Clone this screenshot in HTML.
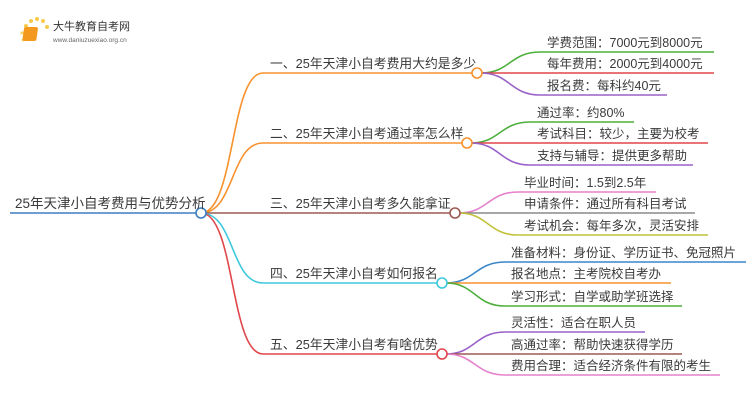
<!DOCTYPE html>
<html><head><meta charset="utf-8"><style>
html,body{margin:0;padding:0;background:#fff;}
svg{display:block;}
text{font-family:"Liberation Sans","Noto Sans CJK SC",sans-serif;fill:#3a3a3a;}
</style></head><body>
<svg width="750" height="410" viewBox="0 0 750 410" xmlns="http://www.w3.org/2000/svg">
<g>
<circle cx="26" cy="26" r="2" fill="#f8c94a"/><circle cx="31" cy="21" r="2" fill="#f8c94a"/><circle cx="37" cy="19" r="2" fill="#f8c94a"/><circle cx="43" cy="21" r="2" fill="#f8c94a"/><circle cx="47" cy="27" r="2" fill="#f8c94a"/><circle cx="22" cy="33" r="1.6" fill="#f8d770"/><circle cx="23" cy="40" r="1.4" fill="#f8d770"/>
<rect x="28" y="27" width="14" height="14" rx="2" fill="#f39a1e" transform="skewX(-8)"/>
<text x="53" y="30" font-size="11" style="fill:#333">大牛教育自考网</text>
<text x="53" y="42" font-size="6.5" style="fill:#666">www.daniuzuexiao.org.cn</text>
</g>
<g fill="none" stroke-width="1.6">
<path d="M10 213 H197" stroke="#3b7fc4"/>
<path d="M201 213 C235 213 230 73 263 73 H473" stroke="#f7922e"/>
<path d="M201 213 C235 213 230 143 263 143 H463" stroke="#f7922e"/>
<path d="M201 213 H451" stroke="#9b5a52"/>
<path d="M201 213 C235 213 230 283 263 283 H438" stroke="#3ec8dc"/>
<path d="M201 213 C235 213 230 354 263 354 H438" stroke="#e0474a"/>
<path d="M481 73 C510 73 510 52 540 52 H714" stroke="#4caf3c"/>
<path d="M481 73 H714" stroke="#e0474a"/>
<path d="M481 73 C510 73 510 95 540 95 H667" stroke="#9a62c8"/>
<path d="M471 143 C500 143 500 122 530 122 H634" stroke="#4caf3c"/>
<path d="M471 143 H708" stroke="#e0474a"/>
<path d="M471 143 C500 143 500 165 530 165 H693" stroke="#9a62c8"/>
<path d="M459 213 C488 213 488 192 518 192 H656" stroke="#e680cc"/>
<path d="M459 213 H695" stroke="#8a8a8a"/>
<path d="M459 213 C488 213 488 235 518 235 H708" stroke="#c2c23a"/>
<path d="M446 283 C475 283 475 262 505 262 H746" stroke="#3a86c8"/>
<path d="M446 283 H671" stroke="#f7922e"/>
<path d="M446 283 C475 283 475 306 505 306 H682" stroke="#4caf3c"/>
<path d="M446 354 C475 354 475 332 505 332 H645" stroke="#9a62c8"/>
<path d="M446 354 H682" stroke="#9b5a52"/>
<path d="M446 354 C475 354 475 375 505 375 H720" stroke="#e680cc"/>
<circle cx="201" cy="213" r="5" fill="#fff" stroke="#3b7fc4"/>
<circle cx="477" cy="73" r="5" fill="#fff" stroke="#f7922e"/>
<circle cx="467" cy="143" r="5" fill="#fff" stroke="#f7922e"/>
<circle cx="455" cy="213" r="5" fill="#fff" stroke="#9b5a52"/>
<circle cx="442" cy="283" r="5" fill="#fff" stroke="#3ec8dc"/>
<circle cx="442" cy="354" r="5" fill="#fff" stroke="#e0474a"/>
</g>
<text x="15" y="208" font-size="13.5">25年天津小自考费用与优势分析</text>
<g font-size="12.8">
<text x="270" y="68">一、25年天津小自考费用大约是多少</text>
<text x="270" y="138">二、25年天津小自考通过率怎么样</text>
<text x="270" y="208">三、25年天津小自考多久能拿证</text>
<text x="270" y="278">四、25年天津小自考如何报名</text>
<text x="270" y="349">五、25年天津小自考有啥优势</text>
</g>
<g font-size="12.5">
<text x="547" y="47">学费范围：7000元到8000元</text>
<text x="547" y="68">每年费用：2000元到4000元</text>
<text x="547" y="90">报名费：每科约40元</text>
<text x="537" y="117">通过率：约80%</text>
<text x="537" y="138">考试科目：较少，主要为校考</text>
<text x="537" y="160">支持与辅导：提供更多帮助</text>
<text x="524" y="187">毕业时间：1.5到2.5年</text>
<text x="524" y="208">申请条件：通过所有科目考试</text>
<text x="524" y="230">考试机会：每年多次，灵活安排</text>
<text x="511" y="257">准备材料：身份证、学历证书、免冠照片</text>
<text x="511" y="278">报名地点：主考院校自考办</text>
<text x="511" y="301">学习形式：自学或助学班选择</text>
<text x="511" y="327">灵活性：适合在职人员</text>
<text x="511" y="349">高通过率：帮助快速获得学历</text>
<text x="511" y="370">费用合理：适合经济条件有限的考生</text>
</g>
</svg>
</body></html>
